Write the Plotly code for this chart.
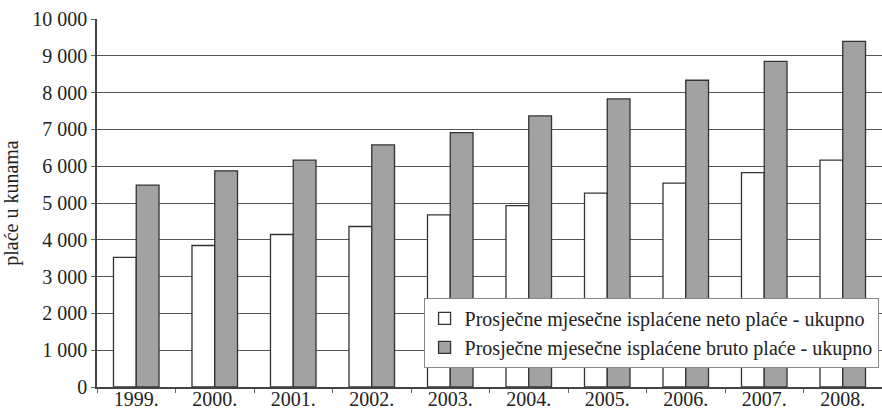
import plotly.graph_objects as go

years = ["1999.", "2000.", "2001.", "2002.", "2003.", "2004.", "2005.", "2006.", "2007.", "2008."]
neto = [3520, 3845, 4144, 4361, 4678, 4931, 5267, 5539, 5827, 6163]
bruto = [5485, 5873, 6163, 6579, 6913, 7366, 7828, 8336, 8851, 9394]
neto_name = "Prosječne mjesečne isplaćene neto plaće - ukupno"
bruto_name = "Prosječne mjesečne isplaćene bruto plaće - ukupno"
y_ticks = [0, 1000, 2000, 3000, 4000, 5000, 6000, 7000, 8000, 9000, 10000]
y_labels = ["0", "1 000", "2 000", "3 000", "4 000", "5 000", "6 000", "7 000", "8 000", "9 000", "10 000"]
y_title = "plaće u kunama"

FONT = "Liberation Serif, Times New Roman, serif"
FS = 20
fig = go.Figure()
fig.add_trace(go.Bar(x=years, y=neto, name=neto_name,
                     marker=dict(color="white", line=dict(color="#333333", width=1.3))))
fig.add_trace(go.Bar(x=years, y=bruto, name=bruto_name,
                     marker=dict(color="#a2a2a2", line=dict(color="#333333", width=1.3))))

fig.update_layout(
    width=882, height=410,
    margin=dict(l=97, r=0, t=19, b=23),
    paper_bgcolor="white", plot_bgcolor="white",
    barmode="group", bargap=0.42, bargroupgap=0,
    font=dict(family=FONT, size=FS, color="#222222"),
    showlegend=True,
    legend=dict(x=0.416, y=0.242, xanchor="left", yanchor="top",
                bgcolor="white", bordercolor="#888888", borderwidth=1,
                font=dict(family=FONT, size=FS, color="#222222"),
                itemwidth=30, tracegroupgap=0),
)
fig.update_xaxes(
    automargin=False,
    showline=True, linecolor="#444444", linewidth=1.5,
    ticks="outside", tickson="boundaries", ticklen=4, tickcolor="#666666",
    showgrid=False, tickfont=dict(family=FONT, size=FS),
    ticklabelstandoff=-7,
)
fig.update_yaxes(
    automargin=False,
    range=[0, 10000], tickvals=y_ticks, ticktext=y_labels,
    showline=True, linecolor="#444444", linewidth=1.5,
    ticks="outside", ticklen=4, tickcolor="#666666",
    showgrid=True, gridcolor="#555555", gridwidth=1,
    zeroline=False,
    title=dict(text=y_title, font=dict(family=FONT, size=FS), standoff=10),
    tickfont=dict(family=FONT, size=FS),
)
fig.write_html("out.html", config={"displayModeBar": False},
               post_script="document.body.style.margin='0';document.body.style.overflow='hidden';")
